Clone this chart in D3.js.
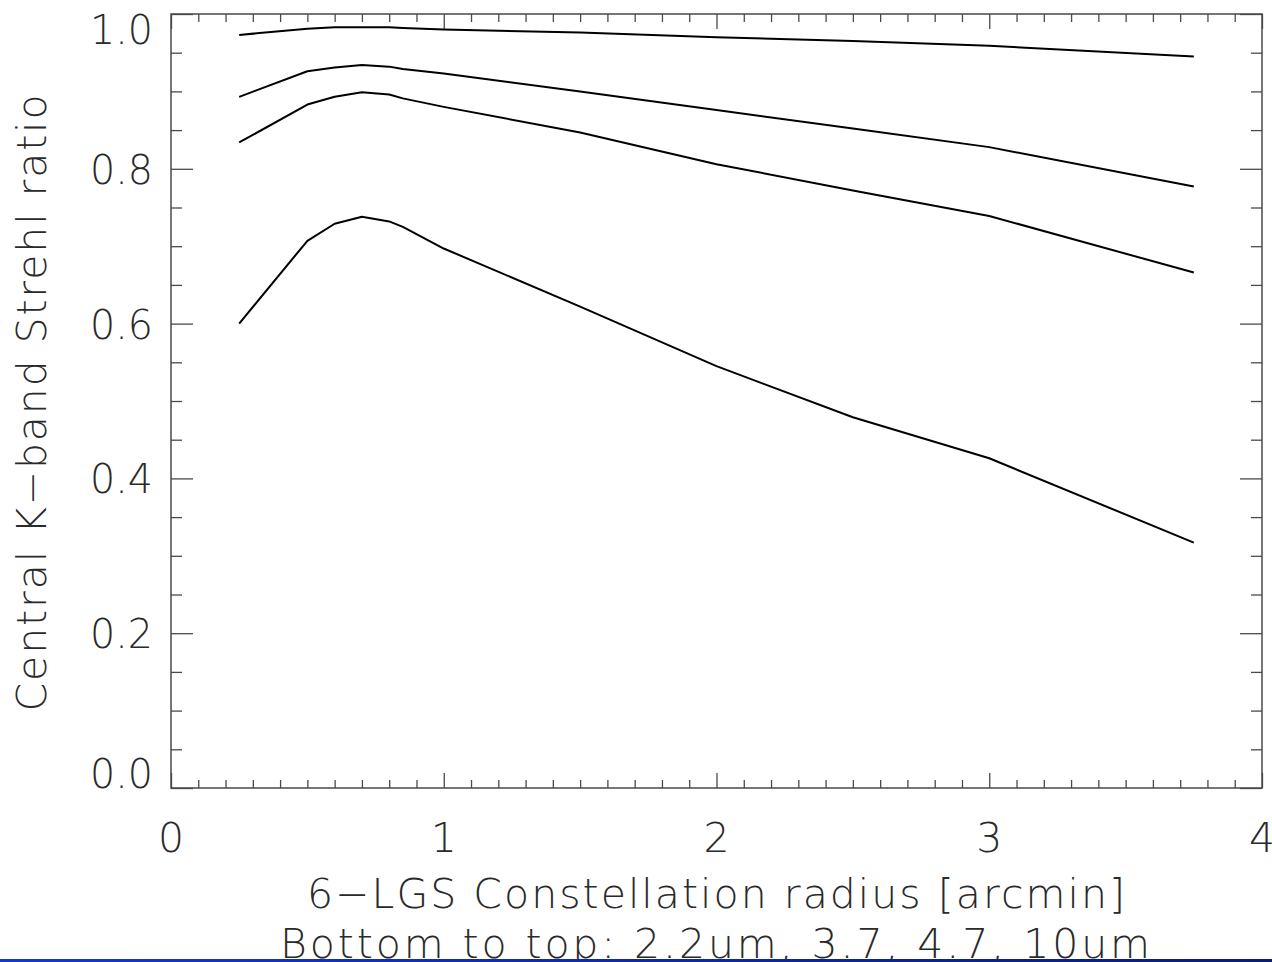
<!DOCTYPE html>
<html>
<head>
<meta charset="utf-8">
<script src="https://cdn.jsdelivr.net/npm/d3@7"></script>
<style>
  html, body { margin: 0; padding: 0; background: #fff; }
  svg { display: block; }
  text { font-family: "DejaVu Sans ExtraLight", "DejaVu Sans", "Liberation Sans", sans-serif; font-weight: 200; fill: #2a2a2a; }
</style>
</head>
<body>
<svg id="chart" width="1272" height="962"></svg>
<script>
// ---- data ----
const radius = [0.25, 0.5, 0.6, 0.7, 0.8, 0.85, 1.0, 1.5, 2.0, 2.5, 3.0, 3.75];
const strehl_2_2um = [0.600, 0.707, 0.729, 0.738, 0.732, 0.725, 0.697, 0.622, 0.545, 0.479, 0.426, 0.317];
const strehl_3_7um = [0.834, 0.883, 0.893, 0.899, 0.896, 0.891, 0.880, 0.847, 0.806, 0.772, 0.739, 0.666];
const strehl_4_7um = [0.893, 0.926, 0.931, 0.934, 0.932, 0.929, 0.923, 0.900, 0.876, 0.852, 0.828, 0.777];
const strehl_10um  = [0.973, 0.981, 0.983, 0.983, 0.983, 0.982, 0.980, 0.976, 0.970, 0.965, 0.959, 0.945];
const xMajorTicks = [0, 1, 2, 3, 4];
const xTickLabels = ["0", "1", "2", "3", "4"];
const yMajorTicks = [0.0, 0.2, 0.4, 0.6, 0.8, 1.0];
const yTickLabels = ["0.0", "0.2", "0.4", "0.6", "0.8", "1.0"];
const xTitle = "6\u2212LGS Constellation radius [arcmin]";
const xSubtitle = "Bottom to top: 2.2um, 3.7, 4.7, 10um";
const yTitle = "Central K\u2212band Strehl ratio";

const series = [strehl_2_2um, strehl_3_7um, strehl_4_7um, strehl_10um];

// ---- layout ----
const L = 171, R = 1262, T = 14, B = 788;
const svg = d3.select("#chart");
const x = d3.scaleLinear().domain([0, 4]).range([L, R]);
const y = d3.scaleLinear().domain([0, 1]).range([B, T]);

const axisColor = "#4a4a4a";

// minor tick values
const xMinor = d3.range(0, 41).map(i => i / 10).filter(v => Math.abs(v - Math.round(v)) > 1e-6);
const yMinor = d3.range(0, 21).map(i => i / 20).filter(v => Math.abs(v * 5 - Math.round(v * 5)) > 1e-6);

function styleAxis(g) {
  g.select(".domain").remove();
  g.selectAll(".tick text").remove();
  g.selectAll(".tick line").attr("stroke", axisColor).attr("stroke-width", 1.3);
}

// bottom/top ticks
svg.append("g").attr("transform", `translate(0,${B})`)
  .call(d3.axisBottom(x).tickValues(xMajorTicks).tickSize(-15)).call(styleAxis);
svg.append("g").attr("transform", `translate(0,${B})`)
  .call(d3.axisBottom(x).tickValues(xMinor).tickSize(-8)).call(styleAxis);
svg.append("g").attr("transform", `translate(0,${T})`)
  .call(d3.axisTop(x).tickValues(xMajorTicks).tickSize(-15)).call(styleAxis);
svg.append("g").attr("transform", `translate(0,${T})`)
  .call(d3.axisTop(x).tickValues(xMinor).tickSize(-8)).call(styleAxis);
// left/right ticks
svg.append("g").attr("transform", `translate(${L},0)`)
  .call(d3.axisLeft(y).tickValues(yMajorTicks).tickSize(-22)).call(styleAxis);
svg.append("g").attr("transform", `translate(${L},0)`)
  .call(d3.axisLeft(y).tickValues(yMinor).tickSize(-11)).call(styleAxis);
svg.append("g").attr("transform", `translate(${R},0)`)
  .call(d3.axisRight(y).tickValues(yMajorTicks).tickSize(-22)).call(styleAxis);
svg.append("g").attr("transform", `translate(${R},0)`)
  .call(d3.axisRight(y).tickValues(yMinor).tickSize(-11)).call(styleAxis);

// frame
svg.append("rect").attr("x", L).attr("y", T).attr("width", R - L).attr("height", B - T)
  .attr("fill", "none").attr("stroke", axisColor).attr("stroke-width", 1.5);

// tick labels
const fs = 41;
svg.append("g").selectAll("text").data(xMajorTicks).join("text")
  .attr("x", d => x(d)).attr("y", 852)
  .attr("text-anchor", "middle").attr("font-size", fs)
  .text((d, i) => xTickLabels[i]);

svg.append("g").selectAll("text").data(yMajorTicks).join("text")
  .attr("x", 153)
  .attr("y", d => Math.min(B, Math.max(T + 30, y(d) + 15)))
  .attr("text-anchor", "end").attr("font-size", fs)
  .attr("textLength", 63).attr("lengthAdjust", "spacingAndGlyphs")
  .text((d, i) => yTickLabels[i]);

// titles
svg.append("text").attr("x", 716).attr("y", 908).attr("text-anchor", "middle")
  .attr("font-size", fs).attr("textLength", 818).attr("lengthAdjust", "spacing").text(xTitle);
svg.append("text").attr("x", 715).attr("y", 958).attr("text-anchor", "middle")
  .attr("font-size", fs).attr("textLength", 870).attr("lengthAdjust", "spacing").text(xSubtitle);
svg.append("text").attr("transform", "translate(46,403) rotate(-90)").attr("text-anchor", "middle")
  .attr("font-size", fs).attr("textLength", 617).attr("lengthAdjust", "spacing").text(yTitle);

// lines
const line = d3.line().x((d, i) => x(radius[i])).y(d => y(d));
svg.append("g").selectAll("path").data(series).join("path")
  .attr("d", line).attr("fill", "none").attr("stroke", "#000").attr("stroke-width", 2)
  .attr("stroke-linejoin", "round");

// bottom blue bar
const grad = svg.append("defs").append("linearGradient").attr("id", "bar")
  .attr("x1", "0%").attr("x2", "100%");
grad.append("stop").attr("offset", "0%").attr("stop-color", "#1638c8");
grad.append("stop").attr("offset", "100%").attr("stop-color", "#0b1c72");
svg.append("rect").attr("x", 0).attr("y", 959).attr("width", 1272).attr("height", 3).attr("fill", "url(#bar)");
</script>
</body>
</html>
